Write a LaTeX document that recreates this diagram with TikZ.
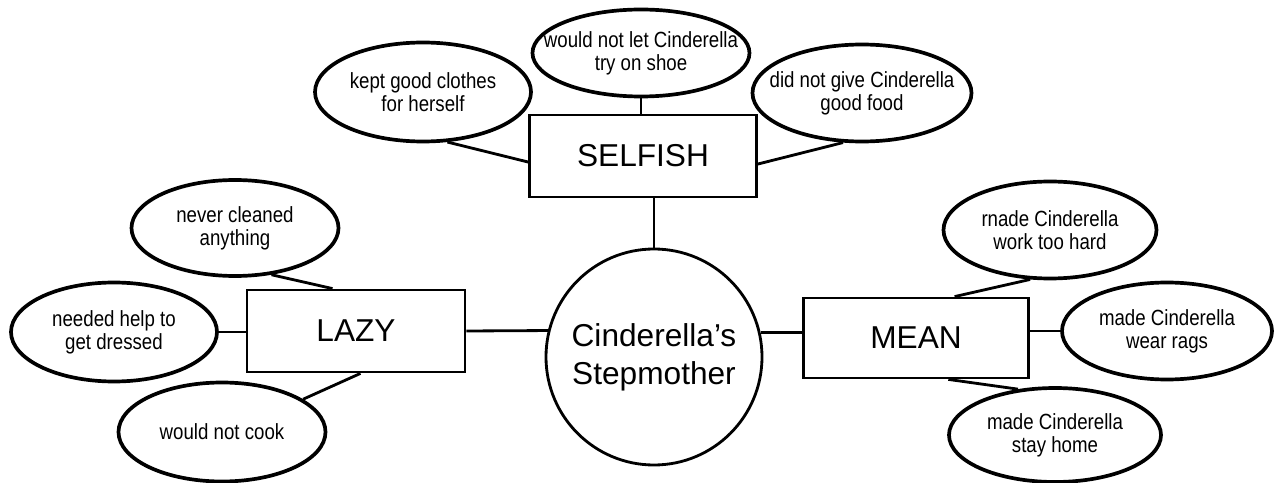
\documentclass[tikz,border=0pt]{standalone}
\usepackage{fontspec}
\setmainfont{Liberation Sans}
\newfontfamily\narrowfont[FakeStretch=0.85]{Liberation Sans}
\usetikzlibrary{shapes.geometric}

\begin{document}
\begin{tikzpicture}[x=0.2mm, y=-0.2mm, line width=1.6pt,
    trait/.style={ellipse, draw, line width=2.1pt, inner xsep=-1.5cm, inner ysep=-0.6cm,
      minimum width=4.24cm, minimum height=1.94cm, align=center,
      font=\narrowfont\fontsize{12.5}{13.2}\selectfont},
    group/.style={rectangle, draw, minimum height=1.64cm, font=\fontsize{18}{21.5}\selectfont},
    hub/.style={circle, draw, inner sep=0pt, minimum size=4.32cm, align=center,
      font=\fontsize{18}{21.5}\selectfont}]
      \useasboundingbox (0,0) rectangle (1283,483);
      % centre and the three headings
      \node[hub] (mother) at (654,357) {Cinderella’s\\Stepmother};
      \node[group, minimum width=4.54cm] (selfish) at (643,156) {SELFISH};
      \node[group, minimum width=4.36cm] (lazy) at (356,331) {LAZY};
      \node[group, minimum width=4.5cm, minimum height=1.6cm] (mean) at (916,338) {MEAN};
      % selfish
      \node[trait, minimum width=4.32cm, minimum height=1.98cm] (kept) at (423,92) {kept good clothes\\for herself};
      \node[trait, minimum width=4.34cm, minimum height=1.74cm] (shoe) at (641,53) {would not let Cinderella\\try on shoe};
      \node[trait, minimum width=4.38cm] (food) at (862,93) {did not give Cinderella\\good food};
      % lazy
      \node[trait, minimum width=4.14cm, minimum height=1.92cm] (clean) at (235,228) {never cleaned\\anything};
      \node[trait, minimum width=4.12cm, minimum height=1.98cm] (dress) at (114,332) {needed help to\\get dressed};
      \node[trait, minimum width=4.14cm, minimum height=1.98cm] (cook) at (222,432) {would not cook};
      % mean
      \node[trait, minimum width=4.26cm] (hard) at (1050,230) {rnade Cinderella\\work too hard};
      \node[trait, minimum width=4.2cm] (rags) at (1167,331) {made Cinderella\\wear rags};
      \node[trait, minimum width=4.24cm, minimum height=1.88cm] (home) at (1055,435) {made Cinderella\\stay home};
      % connectors
      \draw (kept.-64) -- (selfish.183);
      \draw (shoe.south) -- (shoe.south |- selfish.north);
      \draw (food.-111) -- (selfish.-4);
      \draw (mother.north) -- (mother.north |- selfish.south);
      \draw (clean.-52) -- (lazy.119);
      \draw (dress.east) -- (dress.east -| lazy.west);
      \draw (lazy.-84) -- (cook.22);
      \draw (lazy.east) -- (mother.166);
      \draw (mother.13) -- (mother.13 -| mean.west);
      \draw (hard.-112) -- (mean.47);
      \draw (rags.west) -- (rags.west -| mean.east);
      \draw (mean.-52) -- (home.129);
\end{tikzpicture}
\end{document}
